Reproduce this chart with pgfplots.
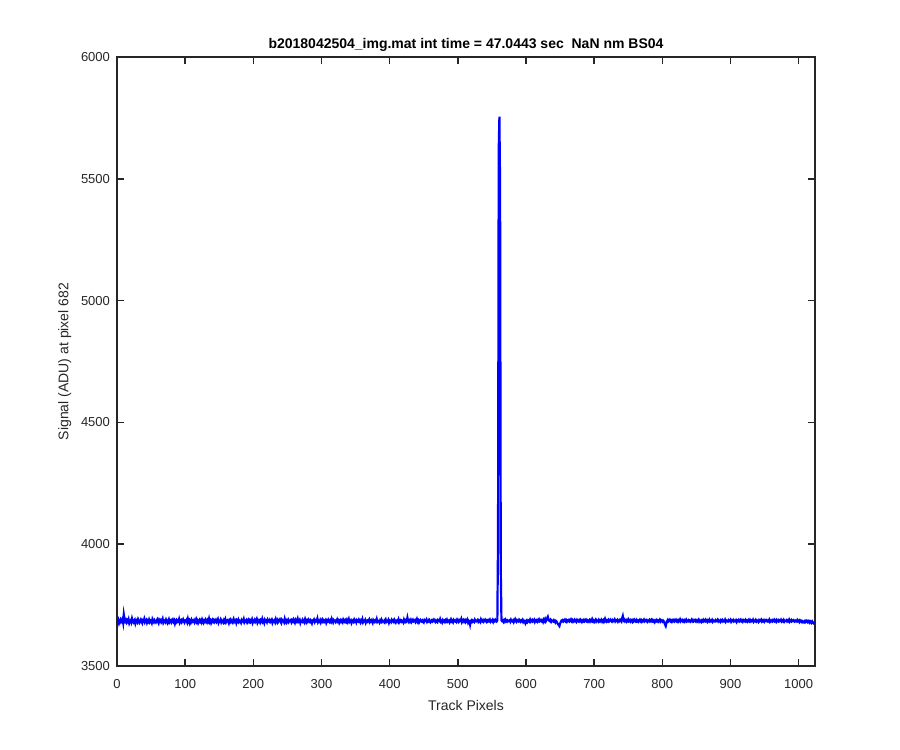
\documentclass[border=0pt]{standalone}
\usepackage{pgfplots}
\pgfplotsset{compat=1.18}
\usepackage{fontspec}
\setmainfont{Liberation Sans}
\definecolor{axc}{RGB}{38,38,38}
\begin{document}
\begin{tikzpicture}
\useasboundingbox (0,0) rectangle (450pt,375pt);
\begin{axis}[
  at={(58.5pt,42pt)}, anchor=south west,
  width=349pt, height=304.5pt, scale only axis,
  xmin=0, xmax=1024, ymin=3500, ymax=6000,
  xtick={0,100,...,1000}, ytick={3500,4000,...,6000},
  tick align=inside, major tick length=3.5pt,
  tick style={axc, line width=0.75pt},
  axis line style={axc, line width=1pt},
  every tick label/.append style={font=\fontsize{6.5pt}{7.5pt}\selectfont, text=axc},
  /pgf/number format/assume math mode=true,
  /pgf/number format/set thousands separator={},
  xticklabel style={yshift=-3pt},
  title={\textbf{b2018042504\_img.mat int time = 47.0443 sec \ NaN nm BS04}},
  title style={font=\fontsize{7pt}{8pt}\selectfont, yshift=-7pt},
  xlabel={Track Pixels}, ylabel={Signal (ADU) at pixel 682},
  label style={font=\fontsize{7pt}{8pt}\selectfont, text=axc},
  xlabel style={yshift=1pt},
  ylabel style={yshift=-2pt},
]
\addplot[blue, line width=1.1pt, mark=none] table[row sep=\\, header=false, x expr=\coordindex, y index=0] {
3683\\ 3679\\ 3688\\ 3676\\ 3684\\ 3690\\ 3681\\ 3686\\ 3693\\ 3678\\ 3712\\ 3695\\ 3684\\ 3689\\ 3680\\ 3687\\
3682\\ 3691\\ 3677\\ 3685\\ 3688\\ 3680\\ 3694\\ 3683\\ 3679\\ 3686\\ 3690\\ 3675\\ 3684\\ 3688\\ 3681\\ 3692\\
3686\\ 3678\\ 3683\\ 3690\\ 3682\\ 3676\\ 3687\\ 3684\\ 3693\\ 3680\\ 3685\\ 3689\\ 3678\\ 3686\\ 3682\\ 3690\\
3681\\ 3687\\ 3684\\ 3677\\ 3692\\ 3685\\ 3680\\ 3688\\ 3683\\ 3679\\ 3686\\ 3691\\ 3682\\ 3676\\ 3689\\ 3684\\
3688\\ 3680\\ 3685\\ 3693\\ 3678\\ 3684\\ 3687\\ 3681\\ 3690\\ 3683\\ 3677\\ 3686\\ 3692\\ 3680\\ 3685\\ 3688\\
3679\\ 3684\\ 3690\\ 3682\\ 3687\\ 3675\\ 3685\\ 3689\\ 3681\\ 3686\\ 3683\\ 3692\\ 3678\\ 3684\\ 3688\\ 3680\\
3685\\ 3691\\ 3683\\ 3678\\ 3686\\ 3684\\ 3689\\ 3680\\ 3693\\ 3682\\ 3687\\ 3676\\ 3684\\ 3690\\ 3681\\ 3686\\
3683\\ 3688\\ 3679\\ 3685\\ 3692\\ 3681\\ 3686\\ 3677\\ 3684\\ 3689\\ 3682\\ 3687\\ 3680\\ 3691\\ 3685\\ 3678\\
3686\\ 3682\\ 3690\\ 3684\\ 3679\\ 3688\\ 3683\\ 3694\\ 3681\\ 3686\\ 3677\\ 3685\\ 3690\\ 3683\\ 3688\\ 3680\\
3684\\ 3689\\ 3681\\ 3686\\ 3692\\ 3678\\ 3685\\ 3683\\ 3690\\ 3680\\ 3687\\ 3684\\ 3679\\ 3688\\ 3682\\ 3691\\
3680\\ 3685\\ 3688\\ 3683\\ 3676\\ 3687\\ 3682\\ 3690\\ 3684\\ 3679\\ 3686\\ 3693\\ 3681\\ 3685\\ 3688\\ 3677\\
3687\\ 3683\\ 3690\\ 3681\\ 3686\\ 3684\\ 3678\\ 3689\\ 3685\\ 3682\\ 3692\\ 3680\\ 3686\\ 3683\\ 3688\\ 3679\\
3685\\ 3690\\ 3682\\ 3687\\ 3680\\ 3684\\ 3691\\ 3678\\ 3686\\ 3683\\ 3689\\ 3681\\ 3685\\ 3692\\ 3679\\ 3687\\
3682\\ 3686\\ 3679\\ 3688\\ 3684\\ 3693\\ 3681\\ 3685\\ 3677\\ 3689\\ 3683\\ 3686\\ 3680\\ 3690\\ 3684\\ 3682\\
3688\\ 3681\\ 3685\\ 3690\\ 3678\\ 3686\\ 3683\\ 3687\\ 3680\\ 3692\\ 3684\\ 3679\\ 3688\\ 3682\\ 3686\\ 3691\\
3683\\ 3677\\ 3689\\ 3684\\ 3686\\ 3680\\ 3693\\ 3682\\ 3687\\ 3679\\ 3685\\ 3690\\ 3681\\ 3686\\ 3684\\ 3688\\
3680\\ 3687\\ 3683\\ 3691\\ 3685\\ 3678\\ 3688\\ 3682\\ 3686\\ 3694\\ 3681\\ 3684\\ 3689\\ 3677\\ 3685\\ 3683\\
3689\\ 3682\\ 3686\\ 3680\\ 3692\\ 3684\\ 3679\\ 3687\\ 3683\\ 3690\\ 3685\\ 3681\\ 3688\\ 3684\\ 3676\\ 3686\\
3684\\ 3690\\ 3681\\ 3687\\ 3683\\ 3686\\ 3695\\ 3680\\ 3685\\ 3682\\ 3688\\ 3679\\ 3686\\ 3691\\ 3683\\ 3687\\
3681\\ 3685\\ 3689\\ 3678\\ 3686\\ 3683\\ 3690\\ 3684\\ 3680\\ 3687\\ 3682\\ 3693\\ 3685\\ 3679\\ 3688\\ 3684\\
3686\\ 3680\\ 3684\\ 3691\\ 3683\\ 3687\\ 3678\\ 3685\\ 3689\\ 3682\\ 3686\\ 3680\\ 3690\\ 3684\\ 3681\\ 3688\\
3683\\ 3689\\ 3680\\ 3686\\ 3693\\ 3681\\ 3685\\ 3688\\ 3677\\ 3684\\ 3687\\ 3682\\ 3690\\ 3683\\ 3686\\ 3679\\
3688\\ 3684\\ 3682\\ 3690\\ 3685\\ 3679\\ 3687\\ 3683\\ 3692\\ 3680\\ 3686\\ 3684\\ 3689\\ 3678\\ 3685\\ 3687\\
3682\\ 3686\\ 3691\\ 3680\\ 3684\\ 3688\\ 3683\\ 3677\\ 3689\\ 3685\\ 3681\\ 3687\\ 3684\\ 3693\\ 3682\\ 3686\\
3685\\ 3679\\ 3687\\ 3683\\ 3690\\ 3682\\ 3686\\ 3684\\ 3680\\ 3688\\ 3692\\ 3681\\ 3685\\ 3683\\ 3689\\ 3678\\
3686\\ 3683\\ 3680\\ 3689\\ 3684\\ 3687\\ 3682\\ 3690\\ 3685\\ 3679\\ 3686\\ 3688\\ 3683\\ 3691\\ 3680\\ 3685\\
3688\\ 3682\\ 3686\\ 3684\\ 3679\\ 3690\\ 3683\\ 3687\\ 3681\\ 3685\\ 3698\\ 3684\\ 3680\\ 3687\\ 3683\\ 3689\\
3681\\ 3686\\ 3690\\ 3683\\ 3685\\ 3688\\ 3680\\ 3684\\ 3692\\ 3682\\ 3687\\ 3679\\ 3685\\ 3689\\ 3684\\ 3682\\
3687\\ 3683\\ 3679\\ 3688\\ 3684\\ 3686\\ 3691\\ 3681\\ 3685\\ 3683\\ 3690\\ 3686\\ 3680\\ 3684\\ 3688\\ 3682\\
3684\\ 3690\\ 3685\\ 3681\\ 3687\\ 3683\\ 3680\\ 3689\\ 3686\\ 3684\\ 3692\\ 3682\\ 3685\\ 3679\\ 3688\\ 3683\\
3686\\ 3681\\ 3688\\ 3684\\ 3690\\ 3682\\ 3685\\ 3687\\ 3679\\ 3684\\ 3691\\ 3683\\ 3686\\ 3680\\ 3689\\ 3685\\
3683\\ 3687\\ 3682\\ 3690\\ 3685\\ 3681\\ 3688\\ 3684\\ 3686\\ 3693\\ 3680\\ 3685\\ 3689\\ 3683\\ 3687\\ 3681\\
3688\\ 3684\\ 3690\\ 3679\\ 3686\\ 3683\\ 3670\\ 3685\\ 3688\\ 3682\\ 3687\\ 3684\\ 3681\\ 3690\\ 3685\\ 3683\\
3686\\ 3689\\ 3682\\ 3687\\ 3684\\ 3680\\ 3691\\ 3685\\ 3683\\ 3688\\ 3682\\ 3686\\ 3690\\ 3684\\ 3681\\ 3687\\
3683\\ 3688\\ 3685\\ 3690\\ 3682\\ 3686\\ 3684\\ 3689\\ 3681\\ 3687\\ 3684\\ 3690\\ 3686\\ 3683\\ 3688\\ 4030\\
5620\\ 5755\\ 5470\\ 3900\\ 3688\\ 3684\\ 3686\\ 3681\\ 3688\\ 3683\\ 3690\\ 3685\\ 3682\\ 3687\\ 3684\\ 3686\\
3688\\ 3682\\ 3690\\ 3685\\ 3683\\ 3687\\ 3680\\ 3686\\ 3692\\ 3684\\ 3681\\ 3688\\ 3685\\ 3683\\ 3690\\ 3686\\
3682\\ 3687\\ 3684\\ 3689\\ 3681\\ 3686\\ 3683\\ 3676\\ 3685\\ 3688\\ 3680\\ 3684\\ 3687\\ 3683\\ 3690\\ 3682\\
3685\\ 3689\\ 3683\\ 3686\\ 3690\\ 3681\\ 3687\\ 3684\\ 3688\\ 3682\\ 3686\\ 3691\\ 3683\\ 3685\\ 3689\\ 3684\\
3687\\ 3681\\ 3690\\ 3685\\ 3692\\ 3683\\ 3688\\ 3696\\ 3702\\ 3690\\ 3686\\ 3684\\ 3689\\ 3682\\ 3687\\ 3685\\
3683\\ 3688\\ 3684\\ 3679\\ 3685\\ 3682\\ 3676\\ 3672\\ 3668\\ 3664\\ 3674\\ 3680\\ 3686\\ 3684\\ 3688\\ 3683\\
3686\\ 3690\\ 3684\\ 3688\\ 3682\\ 3687\\ 3685\\ 3689\\ 3683\\ 3686\\ 3691\\ 3684\\ 3688\\ 3682\\ 3686\\ 3690\\
3684\\ 3687\\ 3682\\ 3689\\ 3685\\ 3683\\ 3688\\ 3684\\ 3690\\ 3686\\ 3681\\ 3687\\ 3684\\ 3689\\ 3683\\ 3686\\
3690\\ 3684\\ 3687\\ 3682\\ 3686\\ 3689\\ 3683\\ 3688\\ 3685\\ 3692\\ 3684\\ 3687\\ 3681\\ 3686\\ 3690\\ 3683\\
3688\\ 3685\\ 3682\\ 3689\\ 3684\\ 3687\\ 3683\\ 3690\\ 3686\\ 3681\\ 3688\\ 3684\\ 3693\\ 3685\\ 3682\\ 3687\\
3684\\ 3689\\ 3683\\ 3686\\ 3690\\ 3685\\ 3682\\ 3688\\ 3684\\ 3686\\ 3691\\ 3683\\ 3687\\ 3685\\ 3689\\ 3682\\
3686\\ 3684\\ 3690\\ 3687\\ 3683\\ 3696\\ 3705\\ 3688\\ 3684\\ 3690\\ 3686\\ 3682\\ 3688\\ 3685\\ 3691\\ 3684\\
3687\\ 3683\\ 3689\\ 3685\\ 3681\\ 3688\\ 3684\\ 3690\\ 3686\\ 3683\\ 3689\\ 3684\\ 3687\\ 3682\\ 3686\\ 3690\\
3684\\ 3688\\ 3682\\ 3687\\ 3685\\ 3690\\ 3683\\ 3686\\ 3689\\ 3684\\ 3681\\ 3687\\ 3685\\ 3689\\ 3683\\ 3686\\
3690\\ 3684\\ 3688\\ 3683\\ 3686\\ 3680\\ 3685\\ 3689\\ 3684\\ 3687\\ 3682\\ 3686\\ 3690\\ 3683\\ 3688\\ 3685\\
3682\\ 3687\\ 3684\\ 3678\\ 3670\\ 3664\\ 3676\\ 3684\\ 3689\\ 3683\\ 3686\\ 3690\\ 3684\\ 3687\\ 3682\\ 3688\\
3685\\ 3689\\ 3683\\ 3686\\ 3690\\ 3684\\ 3687\\ 3682\\ 3688\\ 3685\\ 3691\\ 3683\\ 3686\\ 3689\\ 3684\\ 3687\\
3682\\ 3688\\ 3685\\ 3690\\ 3683\\ 3686\\ 3684\\ 3689\\ 3687\\ 3682\\ 3685\\ 3690\\ 3684\\ 3688\\ 3683\\ 3686\\
3689\\ 3684\\ 3687\\ 3682\\ 3686\\ 3690\\ 3683\\ 3688\\ 3685\\ 3681\\ 3687\\ 3684\\ 3689\\ 3683\\ 3686\\ 3690\\
3684\\ 3687\\ 3682\\ 3688\\ 3685\\ 3690\\ 3683\\ 3686\\ 3684\\ 3689\\ 3682\\ 3687\\ 3685\\ 3683\\ 3688\\ 3684\\
3686\\ 3690\\ 3683\\ 3687\\ 3684\\ 3681\\ 3688\\ 3685\\ 3689\\ 3683\\ 3686\\ 3684\\ 3690\\ 3682\\ 3687\\ 3685\\
3683\\ 3688\\ 3684\\ 3686\\ 3690\\ 3682\\ 3687\\ 3685\\ 3689\\ 3683\\ 3686\\ 3684\\ 3688\\ 3681\\ 3687\\ 3685\\
3689\\ 3683\\ 3686\\ 3690\\ 3684\\ 3687\\ 3682\\ 3688\\ 3685\\ 3683\\ 3689\\ 3684\\ 3687\\ 3682\\ 3686\\ 3690\\
3684\\ 3688\\ 3683\\ 3687\\ 3685\\ 3690\\ 3682\\ 3686\\ 3684\\ 3689\\ 3683\\ 3687\\ 3685\\ 3681\\ 3688\\ 3684\\
3686\\ 3690\\ 3683\\ 3687\\ 3684\\ 3688\\ 3682\\ 3686\\ 3689\\ 3685\\ 3683\\ 3687\\ 3684\\ 3690\\ 3682\\ 3686\\
3684\\ 3688\\ 3683\\ 3686\\ 3690\\ 3684\\ 3687\\ 3682\\ 3689\\ 3685\\ 3683\\ 3688\\ 3684\\ 3686\\ 3690\\ 3683\\
3687\\ 3684\\ 3689\\ 3682\\ 3686\\ 3685\\ 3688\\ 3683\\ 3687\\ 3684\\ 3690\\ 3682\\ 3686\\ 3689\\ 3683\\ 3685\\
3688\\ 3684\\ 3682\\ 3687\\ 3685\\ 3683\\ 3689\\ 3684\\ 3686\\ 3681\\ 3687\\ 3683\\ 3685\\ 3680\\ 3684\\ 3682\\
3679\\ 3684\\ 3681\\ 3686\\ 3683\\ 3680\\ 3685\\ 3682\\ 3678\\ 3684\\ 3681\\ 3677\\ 3683\\ 3679\\ 3676\\ 3680\\
};
\end{axis}
\end{tikzpicture}
\end{document}
